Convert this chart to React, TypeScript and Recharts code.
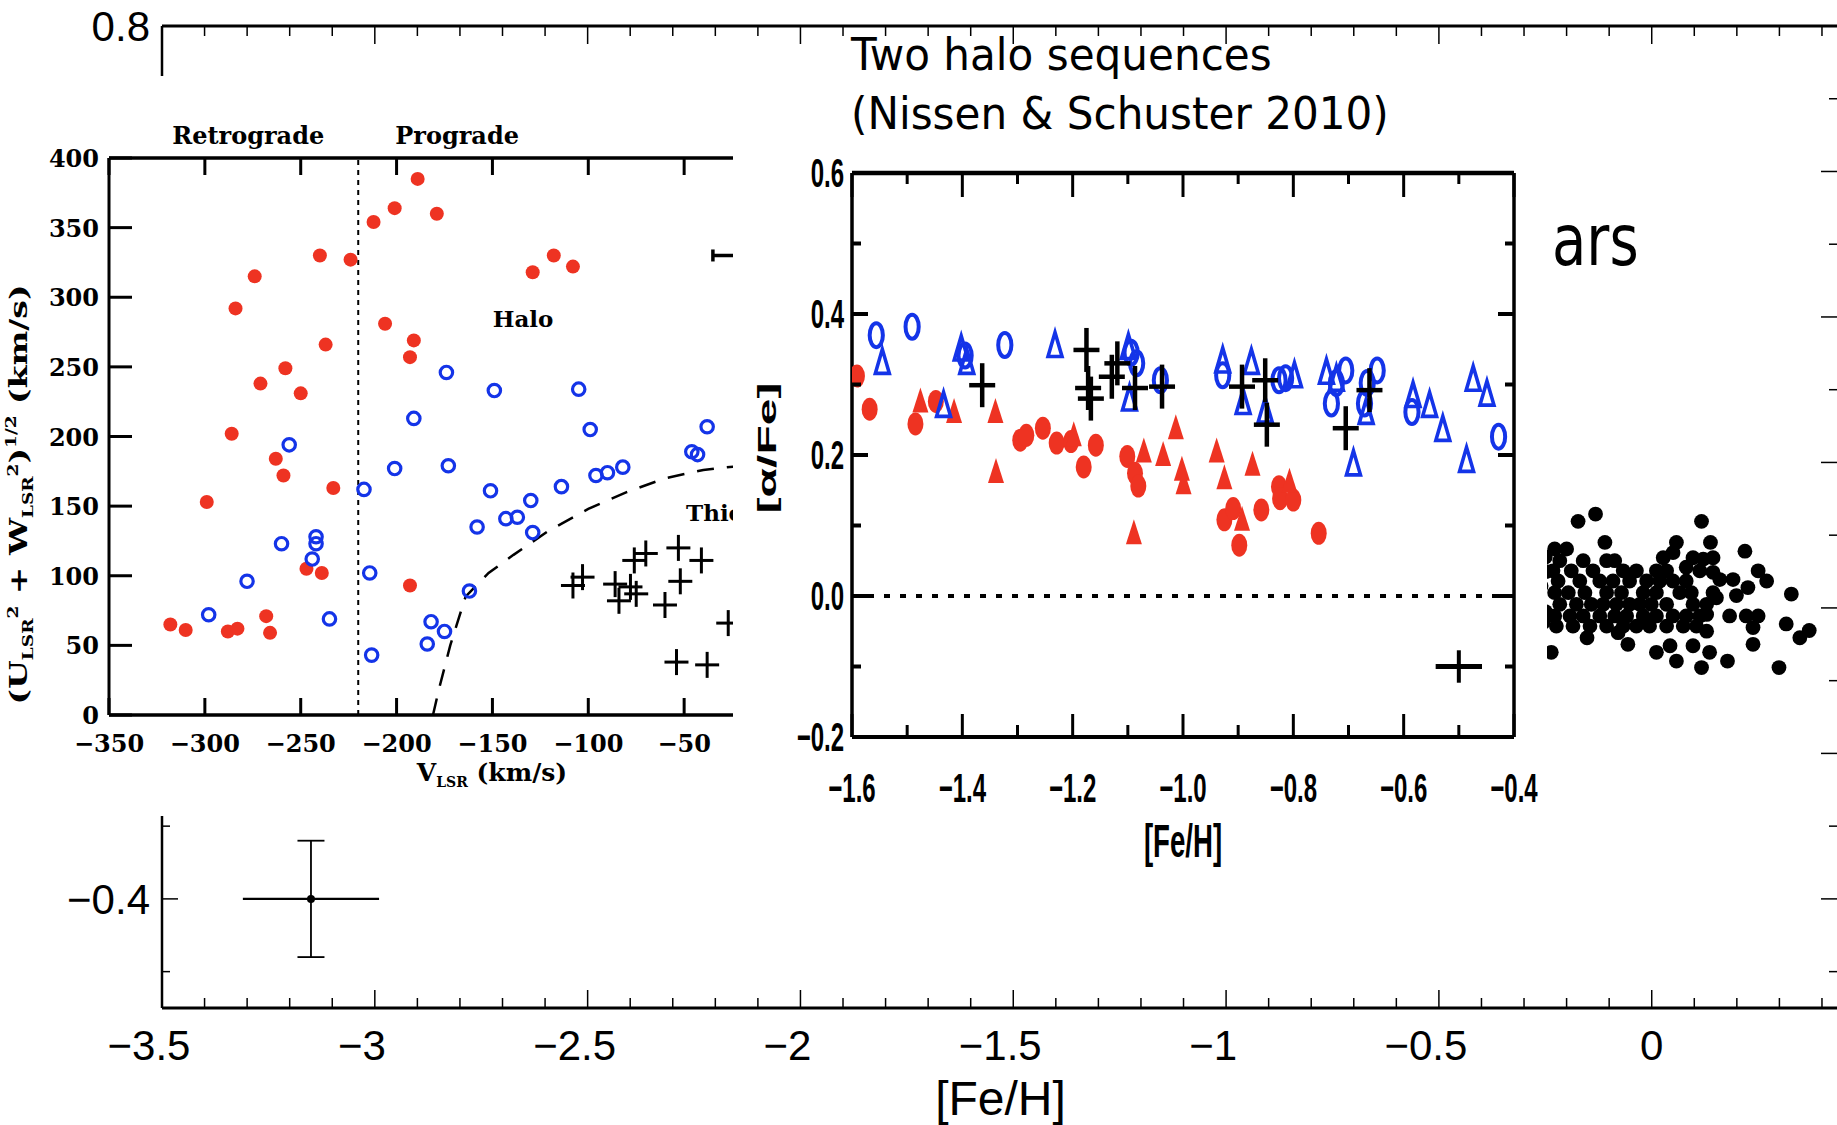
import React from 'react';
import { ScatterChart, Scatter, XAxis, YAxis, ReferenceLine, ReferenceDot, ErrorBar } from 'recharts';

const RED = '#ee3322';
const BLUE = '#1434e8';
const INK = '#000000';

// background slide plot: [Fe/H] vs [alpha/Fe]
const bgXTicks = [
  -3.5, -3.4, -3.3, -3.2, -3.1, -3, -2.9, -2.8, -2.7, -2.6, -2.5, -2.4, -2.3, -2.2, -2.1, -2, -1.9, -1.8, -1.7, -1.6,
  -1.5, -1.4, -1.3, -1.2, -1.1, -1, -0.9, -0.8, -0.7, -0.6, -0.5, -0.4, -0.3, -0.2, -0.1, 0, 0.1, 0.2, 0.3, 0.4,
];
const bgXLabels = [-3.5, -3, -2.5, -2, -1.5, -1, -0.5, 0];
const bgYTicks = [-0.5, -0.4, -0.3, -0.2, -0.1, 0, 0.1, 0.2, 0.3, 0.4, 0.5, 0.6, 0.7, 0.8];
const bgYLabels = [-0.4, -0.2, 0, 0.2, 0.4, 0.6, 0.8];
const bgStars = [
  [-0.173, 0.119], [-0.132, 0.129], [0.117, 0.119], [-0.11, 0.09], [0.058, 0.09], [0.138, 0.09], [0.219, 0.078],
  [0.25, 0.051], [0.27, 0.037], [0.328, 0.019], [0.316, -0.022], [0.348, -0.041], [0.37, -0.031], [0.299, -0.082],
  [0.117, -0.082], [0.178, -0.073], [0.136, -0.061], [0.058, -0.073], [0.011, -0.061], [0.043, -0.052], [0.097, -0.052],
  [-0.056, -0.05], [-0.079, -0.034], [-0.152, -0.041], [-0.236, -0.061], [0.226, 0.028], [0.199, 0.017], [0.183, -0.011],
  [0.222, -0.011], [0.25, -0.011], [0.238, -0.027], [0.238, -0.05], [0.129, -0.032], [0.129, -0.009], [0.152, 0.014],
  [0.16, 0.039], [0.191, 0.039],
  [-0.228, 0.081], [-0.2, 0.081],
  [-0.216, 0.065], [-0.161, 0.065], [-0.106, 0.065], [-0.087, 0.065],
  [-0.232, 0.051], [-0.189, 0.051], [-0.138, 0.051], [-0.067, 0.051], [-0.036, 0.051], [0.011, 0.051], [0.035, 0.051],
  [-0.22, 0.037], [-0.169, 0.037], [-0.122, 0.037], [-0.091, 0.037], [-0.052, 0.037], [-0.012, 0.037], [0.019, 0.037],
  [0.05, 0.037], [0.081, 0.037],
  [-0.228, 0.021], [-0.196, 0.021], [-0.157, 0.021], [-0.106, 0.021], [-0.071, 0.021], [-0.02, 0.021], [0.011, 0.021],
  [0.066, 0.021], [0.093, 0.021], [0.144, 0.021],
  [-0.216, 0.005], [-0.177, 0.005], [-0.142, 0.005], [-0.114, 0.005], [-0.083, 0.005], [-0.052, 0.005], [-0.028, 0.005],
  [-0.001, 0.005], [0.035, 0.005], [0.097, 0.005], [0.129, 0.005],
  [-0.228, -0.011], [-0.192, -0.011], [-0.161, -0.011], [-0.122, -0.011], [-0.087, -0.011], [-0.059, -0.011],
  [-0.02, -0.011], [0.011, -0.011], [0.05, -0.011], [0.081, -0.011], [0.113, -0.011],
  [-0.224, -0.025], [-0.185, -0.025], [-0.145, -0.025], [-0.106, -0.025], [-0.067, -0.025], [-0.036, -0.025],
  [-0.005, -0.025], [0.035, -0.025], [0.074, -0.025], [0.105, -0.025],
  [0.027, 0.069], [0.05, 0.076], [0.097, 0.069], [0.121, 0.067], [0.144, 0.069], [0.081, 0.056], [0.113, 0.051],
  [0.144, 0.049],
  [-0.25, 0.07], [-0.26, 0.03], [-0.25, -0.005], [-0.255, -0.02], [-0.248, 0.05],
];
const bgTypicalError = [{ x: -3.15, y: -0.4, ex: 0.16, ey: 0.08 }];

// pasted panel 1: V_LSR vs sqrt(U^2 + W^2)
const vXTicks = [-350, -300, -250, -200, -150, -100, -50, 0];
const vXLabels = [-350, -300, -250, -200, -150, -100, -50];
const vYTicks = [0, 50, 100, 150, 200, 250, 300, 350, 400];
const vLowAlpha = [
  [-189, 385], [-201, 364], [-179, 360], [-212, 354], [-240, 330], [-224, 327], [-274, 315], [-284, 292],
  [-129, 318], [-118, 330], [-108, 322], [-206, 281], [-191, 269], [-193, 257], [-237, 266], [-258, 249],
  [-271, 238], [-250, 231], [-286, 202], [-263, 184], [-259, 172], [-233, 163], [-299, 153], [-247, 105],
  [-239, 102], [-193, 93], [-318, 65], [-310, 61], [-288, 60], [-283, 62], [-268, 71], [-266, 59],
];
const vHighAlpha = [
  [-174, 246], [-149, 233], [-105, 234], [-191, 213], [-99, 205], [-256, 194], [-38, 207], [-46, 189], [-43, 187],
  [-201, 177], [-173, 179], [-96, 172], [-90, 174], [-82, 178], [-217, 162], [-151, 161], [-114, 164], [-130, 154],
  [-158, 135], [-143, 141], [-137, 142], [-129, 131], [-260, 123], [-242, 128], [-242, 123], [-244, 112], [-278, 96],
  [-214, 102], [-298, 72], [-235, 69], [-182, 67], [-175, 60], [-184, 51], [-213, 43], [-162, 89],
];
const vThickDisk = [
  [-108, 93], [-103, 99], [-86, 94], [-84, 82], [-78, 92], [-75, 87], [-76, 111], [-70, 116], [-60, 79],
  [-53, 120], [-52, 96], [-41, 111], [-54, 38], [-38, 36], [-27, 66],
];
const vDiskEdge = [
  [-181, 0], [-178, 18], [-172, 50], [-164, 85], [-152, 102], [-139, 115], [-121, 132], [-100, 148], [-80, 160],
  [-60, 170], [-40, 176], [-20, 179], [0, 180],
];
const vSampleError = [{ x: -20, y: 330, ex: 15 }];

// pasted panel 2: Nissen & Schuster (2010)
const nsXTicks = [-1.6, -1.5, -1.4, -1.3, -1.2, -1.1, -1.0, -0.9, -0.8, -0.7, -0.6, -0.5, -0.4];
const nsXLabels = [-1.6, -1.4, -1.2, -1.0, -0.8, -0.6, -0.4];
const nsYTicks = [-0.2, -0.1, 0, 0.1, 0.2, 0.3, 0.4, 0.5, 0.6];
const nsYLabels = [-0.2, 0, 0.2, 0.4, 0.6];
const nsHighRings = [
  [-1.556, 0.37], [-1.491, 0.382], [-1.395, 0.341], [-1.323, 0.356], [-1.084, 0.33], [-1.094, 0.345], [-1.041, 0.306],
  [-0.928, 0.313], [-0.826, 0.306], [-0.814, 0.309], [-0.705, 0.32], [-0.731, 0.273], [-0.722, 0.302], [-0.648, 0.32],
  [-0.671, 0.273], [-0.666, 0.302], [-0.585, 0.261], [-0.428, 0.226],
];
const nsHighTri = [
  [-1.545, 0.33], [-1.434, 0.269], [-1.402, 0.349], [-1.392, 0.33], [-1.232, 0.354], [-1.097, 0.278], [-1.099, 0.351],
  [-0.928, 0.332], [-0.891, 0.273], [-0.876, 0.33], [-0.851, 0.261], [-0.798, 0.311], [-0.74, 0.316], [-0.722, 0.306],
  [-0.691, 0.186], [-0.668, 0.259], [-0.583, 0.283], [-0.553, 0.269], [-0.529, 0.235], [-0.486, 0.191], [-0.474, 0.306],
  [-0.449, 0.285],
];
const nsLowDots = [
  [-1.591, 0.312], [-1.568, 0.265], [-1.485, 0.244], [-1.448, 0.276], [-1.295, 0.221], [-1.284, 0.228], [-1.254, 0.238],
  [-1.229, 0.217], [-1.203, 0.219], [-1.18, 0.183], [-1.158, 0.214], [-1.101, 0.198], [-1.087, 0.174], [-1.081, 0.156],
  [-0.925, 0.108], [-0.909, 0.124], [-0.898, 0.072], [-0.858, 0.122], [-0.826, 0.155], [-0.824, 0.138], [-0.8, 0.136],
  [-0.754, 0.089],
];
const nsLowTri = [
  [-1.476, 0.276], [-1.415, 0.261], [-1.34, 0.261], [-1.339, 0.176], [-1.198, 0.228], [-1.089, 0.089], [-1.071, 0.205],
  [-1.036, 0.2], [-1.013, 0.238], [-1.002, 0.179], [-0.999, 0.16], [-0.939, 0.205], [-0.925, 0.167], [-0.893, 0.108],
  [-0.874, 0.186], [-0.807, 0.162],
];
const nsThick = [
  [-1.364, 0.299], [-1.175, 0.349], [-1.172, 0.295], [-1.167, 0.28], [-1.129, 0.311], [-1.119, 0.33], [-1.087, 0.295],
  [-1.038, 0.297], [-0.893, 0.297], [-0.851, 0.306], [-0.848, 0.243], [-0.705, 0.238], [-0.662, 0.292],
];
const nsTypicalError = [{ x: -0.5, y: -0.1, ex: 0.042, ey: 0.023 }];

const pts = (a: number[][]) => a.map(([x, y]) => ({ x, y }));
const near = (list: number[], v: number) => list.some((m) => Math.abs(m - v) < 1e-6);
const neg = (s: string) => s.replace('-', '\u2212');

type Side = 'bottom' | 'top' | 'left' | 'right';
interface TickOpts {
  side: Side;
  major: number[];
  majorLen: number;
  minorLen: number;
  width: number;
  fmt?: (v: number) => string;
  family?: string;
  size?: number;
  weight?: string;
  gap?: number;
  base?: number;
  negShift?: number;
  sx?: number;
}

const makeTick = (o: TickOpts) => (p: any) => {
  const { x, y, payload } = p;
  const v: number = payload.value;
  const isMajor = near(o.major, v);
  const len = isMajor ? o.majorLen : o.minorLen;
  let x2 = x;
  let y2 = y;
  if (o.side === 'bottom') y2 = y - len;
  if (o.side === 'top') y2 = y + len;
  if (o.side === 'left') x2 = x + len;
  if (o.side === 'right') x2 = x - len;
  let label = null;
  if (o.fmt && isMajor) {
    let tx = x;
    let ty = y;
    let anchor = 'middle';
    if (o.side === 'bottom') {
      ty = y + (o.gap ?? 0);
      if (v < 0) tx -= o.negShift ?? 0;
    } else {
      tx = x - (o.gap ?? 0);
      ty = y + (o.base ?? 0);
      anchor = 'end';
    }
    label = (
      <text
        transform={`translate(${tx},${ty}) scale(${o.sx ?? 1},1)`}
        textAnchor={anchor}
        fontFamily={o.family}
        fontSize={o.size}
        fontWeight={o.weight ?? 'normal'}
        fill={INK}
      >
        {o.fmt(v)}
      </text>
    );
  }
  return (
    <g>
      <line x1={x} y1={y} x2={x2} y2={y2} stroke={INK} strokeWidth={o.width} />
      {label}
    </g>
  );
};

const SANS = "'Liberation Sans', Arial, sans-serif";
const IDL = "'DejaVu Serif', 'Liberation Serif', serif";

// background axes
const bgBottomTick = makeTick({
  side: 'bottom', major: bgXLabels, majorLen: 18, minorLen: 10, width: 1.5,
  fmt: (v) => neg(String(v)), family: SANS, size: 42, gap: 52, negShift: 13,
});
const bgTopTick = makeTick({ side: 'top', major: bgXLabels, majorLen: 18, minorLen: 10, width: 1.5 });
const bgLeftTick = makeTick({
  side: 'left', major: bgYLabels, majorLen: 16, minorLen: 8, width: 1.5,
  fmt: (v) => neg(String(v)), family: SANS, size: 42, gap: 12, base: 15,
});
const bgRightTick = makeTick({ side: 'right', major: bgYLabels, majorLen: 18, minorLen: 10, width: 1.5 });

// panel 1 axes
const vBottomTick = makeTick({
  side: 'bottom', major: vXLabels, majorLen: 17, minorLen: 17, width: 3,
  fmt: (v) => neg(String(v)), family: IDL, size: 24, weight: 'bold', gap: 37,
});
const vTopTick = makeTick({ side: 'top', major: vXTicks, majorLen: 17, minorLen: 17, width: 3 });
const vLeftTick = makeTick({
  side: 'left', major: vYTicks, majorLen: 23, minorLen: 23, width: 3,
  fmt: (v) => String(v), family: IDL, size: 24, weight: 'bold', gap: 10, base: 9,
});

// panel 2 axes
const nsBottomTick = makeTick({
  side: 'bottom', major: nsXLabels, majorLen: 23, minorLen: 12, width: 3,
  fmt: (v) => neg(v.toFixed(1)), family: SANS, size: 40, weight: 'bold', gap: 65, sx: 0.6,
});
const nsTopTick = makeTick({ side: 'top', major: nsXLabels, majorLen: 24, minorLen: 11, width: 3 });
const nsLeftTick = makeTick({
  side: 'left', major: nsYLabels, majorLen: 16, minorLen: 9, width: 4,
  fmt: (v) => neg(v.toFixed(1)), family: SANS, size: 40, weight: 'bold', gap: 8, base: 14, sx: 0.6,
});
const nsRightTick = makeTick({ side: 'right', major: nsYLabels, majorLen: 16, minorLen: 9, width: 4 });

// marker shapes
const bgDot = (p: any) => <circle cx={p.cx} cy={p.cy} r={7.4} fill={INK} />;
const bgCentre = (p: any) => <circle cx={p.cx} cy={p.cy} r={4} fill={INK} />;
const none = () => <g />;
const vRed = (p: any) => <circle cx={p.cx} cy={p.cy} r={7} fill={RED} />;
const vRing = (p: any) => <circle cx={p.cx} cy={p.cy} r={6.2} fill="none" stroke={BLUE} strokeWidth={3.2} />;
const vPlus = (p: any) => (
  <g stroke={INK} strokeWidth={3}>
    <line x1={p.cx - 12} y1={p.cy} x2={p.cx + 12} y2={p.cy} />
    <line x1={p.cx} y1={p.cy - 13} x2={p.cx} y2={p.cy + 13} />
  </g>
);
const nsRing = (p: any) => (
  <ellipse cx={p.cx} cy={p.cy} rx={6.6} ry={12} fill="none" stroke={BLUE} strokeWidth={4} />
);
const nsOpenTri = (p: any) => (
  <polygon
    points={`${p.cx},${p.cy - 14} ${p.cx - 7},${p.cy + 10} ${p.cx + 7},${p.cy + 10}`}
    fill="none" stroke={BLUE} strokeWidth={3.6}
  />
);
const nsDot = (p: any) => <ellipse cx={p.cx} cy={p.cy} rx={8} ry={11.5} fill={RED} />;
const nsTri = (p: any) => (
  <polygon points={`${p.cx},${p.cy - 14} ${p.cx - 8},${p.cy + 11} ${p.cx + 8},${p.cy + 11}`} fill={RED} />
);
const nsPlus = (p: any) => (
  <g stroke={INK} strokeWidth={4.5}>
    <line x1={p.cx - 13} y1={p.cy} x2={p.cx + 13} y2={p.cy} />
    <line x1={p.cx} y1={p.cy - 22} x2={p.cx} y2={p.cy + 22} />
  </g>
);

const vb0 = (p: any) => p.viewBox || { x: 0, y: 0, width: 0, height: 0 };

function BackgroundPlot() {
  return (
    <ScatterChart width={1900} height={1125} margin={{ top: 0, right: 0, bottom: 0, left: 0 }}>
      <XAxis
        xAxisId="b" dataKey="x" type="number" domain={[-3.5, 0.44]} ticks={bgXTicks} interval={0} height={117}
        tickLine={false} tickSize={0} tickMargin={0} tick={bgBottomTick} allowDataOverflow
        axisLine={{ stroke: INK, strokeWidth: 3 }}
        label={(p: any) => {
          const vb = vb0(p);
          return (
            <text x={vb.x + vb.width / 2} y={vb.y + 107} textAnchor="middle" fontFamily={SANS} fontSize={48} fill={INK}>
              [Fe/H]
            </text>
          );
        }}
      />
      <XAxis
        xAxisId="t" orientation="top" dataKey="x" type="number" domain={[-3.5, 0.44]} ticks={bgXTicks} interval={0}
        height={26} tickLine={false} tickSize={0} tickMargin={0} tick={bgTopTick} allowDataOverflow
        axisLine={{ stroke: INK, strokeWidth: 3 }}
      />
      <YAxis
        yAxisId="l" dataKey="y" type="number" domain={[-0.55, 0.8]} ticks={bgYTicks} interval={0} width={162}
        tickLine={false} tickSize={0} tickMargin={0} tick={bgLeftTick} allowDataOverflow
        axisLine={{ stroke: INK, strokeWidth: 2.5 }}
      />
      <YAxis
        yAxisId="r" orientation="right" dataKey="y" type="number" domain={[-0.55, 0.8]} ticks={bgYTicks} interval={0}
        width={61} tickLine={false} tickSize={0} tickMargin={0} tick={bgRightTick} allowDataOverflow
        axisLine={{ stroke: INK, strokeWidth: 2.5 }}
      />
      <Scatter xAxisId="b" yAxisId="l" data={pts(bgStars)} shape={bgDot} isAnimationActive={false} />
      <Scatter xAxisId="b" yAxisId="l" data={bgTypicalError} shape={bgCentre} isAnimationActive={false}>
        <ErrorBar dataKey="ey" direction="y" width={13.5} stroke={INK} strokeWidth={1.8} isAnimationActive={false} />
        <ErrorBar dataKey="ex" direction="x" width={0} stroke={INK} strokeWidth={2.2} isAnimationActive={false} />
      </Scatter>
    </ScatterChart>
  );
}

function VelocityPanel() {
  return (
    <ScatterChart width={800} height={740} margin={{ top: 0, right: 0, bottom: 0, left: 0 }}>
      <XAxis
        xAxisId="b" dataKey="x" type="number" domain={[-350, 0]} ticks={vXTicks} interval={0} height={101}
        tickLine={false} tickSize={0} tickMargin={0} tick={vBottomTick} allowDataOverflow
        axisLine={{ stroke: INK, strokeWidth: 3.5 }}
        label={(p: any) => {
          const vb = vb0(p);
          return (
            <text x={vb.x + 383} y={vb.y + 66} textAnchor="middle" fontFamily={IDL} fontWeight="bold" fontSize={25} fill={INK}>
              V<tspan fontSize={14} dy={6}>LSR</tspan>
              <tspan dy={-6}> (km/s)</tspan>
            </text>
          );
        }}
      />
      <XAxis
        xAxisId="t" orientation="top" dataKey="x" type="number" domain={[-350, 0]} ticks={vXTicks} interval={0}
        height={82} tickLine={false} tickSize={0} tickMargin={0} tick={vTopTick} allowDataOverflow
        axisLine={{ stroke: INK, strokeWidth: 3.5 }}
      />
      <YAxis
        yAxisId="l" dataKey="y" type="number" domain={[0, 400]} ticks={vYTicks} interval={0} width={109}
        tickLine={false} tickSize={0} tickMargin={0} tick={vLeftTick} allowDataOverflow
        axisLine={{ stroke: INK, strokeWidth: 3 }}
        label={(p: any) => {
          const vb = vb0(p);
          const cx = vb.x + 18;
          const cy = vb.y + vb.height / 2 + 58;
          return (
            <text
              transform={`translate(${cx},${cy}) rotate(-90)`} y={9} textAnchor="middle" fontFamily={IDL}
              fontWeight="bold" fontSize={25} fill={INK} textLength={420} lengthAdjust="spacingAndGlyphs"
            >
              (U<tspan fontSize={14} dy={6}>LSR</tspan>
              <tspan fontSize={14} dy={-15}>2</tspan>
              <tspan dy={9}> + W</tspan>
              <tspan fontSize={14} dy={6}>LSR</tspan>
              <tspan fontSize={14} dy={-15}>2</tspan>
              <tspan dy={9}>)</tspan>
              <tspan fontSize={14} dy={-11}>1/2</tspan>
              <tspan dy={11}> (km/s)</tspan>
            </text>
          );
        }}
      />
      <YAxis
        yAxisId="r" orientation="right" dataKey="y" type="number" domain={[0, 400]} ticks={vYTicks} interval={0}
        width={20} tickLine={false} tick={false} allowDataOverflow axisLine={{ stroke: INK, strokeWidth: 3 }}
      />
      <ReferenceLine
        xAxisId="b" yAxisId="l" x={-220} stroke={INK} strokeWidth={2} strokeDasharray="5 5"
        label={(p: any) => {
          const vb = vb0(p);
          return (
            <g fontFamily={IDL} fontWeight="bold" fontSize={24} fill={INK}>
              <text x={vb.x - 34} y={vb.y - 14} textAnchor="end">Retrograde</text>
              <text x={vb.x + 37} y={vb.y - 14} textAnchor="start">Prograde</text>
            </g>
          );
        }}
      />
      <Scatter
        xAxisId="b" yAxisId="l" data={pts(vDiskEdge)} shape={none} isAnimationActive={false}
        line={{ stroke: INK, strokeWidth: 2.5, strokeDasharray: '17 13' }}
      />
      <Scatter xAxisId="b" yAxisId="l" data={pts(vLowAlpha)} shape={vRed} isAnimationActive={false} />
      <Scatter xAxisId="b" yAxisId="l" data={pts(vHighAlpha)} shape={vRing} isAnimationActive={false} />
      <Scatter xAxisId="b" yAxisId="l" data={pts(vThickDisk)} shape={vPlus} isAnimationActive={false} />
      <Scatter xAxisId="b" yAxisId="l" data={vSampleError} shape={none} isAnimationActive={false}>
        <ErrorBar dataKey="ex" direction="x" width={6} stroke={INK} strokeWidth={3.5} isAnimationActive={false} />
      </Scatter>
      <ReferenceDot
        xAxisId="b" yAxisId="l" x={-134} y={285} r={0}
        label={(p: any) => {
          const vb = vb0(p);
          return (
            <text x={vb.x} y={vb.y + 9} textAnchor="middle" fontFamily={IDL} fontWeight="bold" fontSize={23} fill={INK}>
              Halo
            </text>
          );
        }}
      />
      <ReferenceDot
        xAxisId="b" yAxisId="l" x={-49} y={146} r={0}
        label={(p: any) => {
          const vb = vb0(p);
          return (
            <text x={vb.x} y={vb.y + 9} textAnchor="start" fontFamily={IDL} fontWeight="bold" fontSize={23} fill={INK}>
              Thick disk
            </text>
          );
        }}
      />
    </ScatterChart>
  );
}

function NissenPanel() {
  return (
    <ScatterChart width={807} height={829} margin={{ top: 0, right: 0, bottom: 0, left: 0 }}>
      <XAxis
        xAxisId="b" dataKey="x" type="number" domain={[-1.6, -0.4]} ticks={nsXTicks} interval={0} height={136}
        tickLine={false} tickSize={0} tickMargin={0} tick={nsBottomTick} allowDataOverflow
        axisLine={{ stroke: INK, strokeWidth: 4 }}
        label={(p: any) => {
          const vb = vb0(p);
          return (
            <text
              transform={`translate(${vb.x + vb.width / 2},${vb.y + 120}) scale(0.6,1)`} textAnchor="middle"
              fontFamily={SANS} fontWeight="bold" fontSize={46} fill={INK}
            >
              [Fe/H]
            </text>
          );
        }}
      />
      <XAxis
        xAxisId="t" orientation="top" dataKey="x" type="number" domain={[-1.6, -0.4]} ticks={nsXTicks} interval={0}
        height={129} tickLine={false} tickSize={0} tickMargin={0} tick={nsTopTick} allowDataOverflow
        axisLine={{ stroke: INK, strokeWidth: 4.5 }}
      />
      <YAxis
        yAxisId="l" dataKey="y" type="number" domain={[-0.2, 0.6]} ticks={nsYTicks} interval={0} width={112}
        tickLine={false} tickSize={0} tickMargin={0} tick={nsLeftTick} allowDataOverflow
        axisLine={{ stroke: INK, strokeWidth: 3.5 }}
        label={(p: any) => {
          const vb = vb0(p);
          const cy = vb.y + vb.height / 2 - 7;
          return (
            <text
              transform={`translate(${vb.x + 27},${cy}) rotate(-90) scale(1,0.55)`} y={16} textAnchor="middle"
              fontFamily={SANS} fontWeight="bold" fontSize={48} fill={INK}
            >
              [α/Fe]
            </text>
          );
        }}
      />
      <YAxis
        yAxisId="r" orientation="right" dataKey="y" type="number" domain={[-0.2, 0.6]} ticks={nsYTicks} interval={0}
        width={33} tickLine={false} tickSize={0} tickMargin={0} tick={nsRightTick} allowDataOverflow
        axisLine={{ stroke: INK, strokeWidth: 3.5 }}
      />
      <ReferenceLine xAxisId="b" yAxisId="l" y={0} stroke={INK} strokeWidth={4} strokeDasharray="6 10" />
      <Scatter xAxisId="b" yAxisId="l" data={pts(nsLowDots)} shape={nsDot} isAnimationActive={false} />
      <Scatter xAxisId="b" yAxisId="l" data={pts(nsLowTri)} shape={nsTri} isAnimationActive={false} />
      <Scatter xAxisId="b" yAxisId="l" data={pts(nsHighRings)} shape={nsRing} isAnimationActive={false} />
      <Scatter xAxisId="b" yAxisId="l" data={pts(nsHighTri)} shape={nsOpenTri} isAnimationActive={false} />
      <Scatter xAxisId="b" yAxisId="l" data={pts(nsThick)} shape={nsPlus} isAnimationActive={false} />
      <Scatter xAxisId="b" yAxisId="l" data={nsTypicalError} shape={none} isAnimationActive={false}>
        <ErrorBar dataKey="ex" direction="x" width={0} stroke={INK} strokeWidth={5} isAnimationActive={false} />
        <ErrorBar dataKey="ey" direction="y" width={0} stroke={INK} strokeWidth={4} isAnimationActive={false} />
      </Scatter>
    </ScatterChart>
  );
}

const slideFont = "'DejaVu Sans', Verdana, sans-serif";

export default function App() {
  return (
    <div style={{ position: 'fixed', left: 0, top: 0, width: 1837, height: 1125, overflow: 'hidden', background: '#fff' }}>
      <div style={{ position: 'absolute', left: 0, top: 0 }}>
        <BackgroundPlot />
      </div>
      <div
        style={{
          position: 'absolute', left: 1552, top: 205, fontFamily: slideFont, fontSize: 71, lineHeight: 1,
          transform: 'scaleX(0.79)', transformOrigin: '0 0', whiteSpace: 'nowrap', color: INK,
        }}
      >
        ars
      </div>
      <div style={{ position: 'absolute', left: 0, top: 76, width: 733, height: 740, overflow: 'hidden', background: '#fff' }}>
        <VelocityPanel />
      </div>
      <div style={{ position: 'absolute', left: 740, top: 44, width: 807, height: 829, overflow: 'hidden', background: '#fff' }}>
        <NissenPanel />
      </div>
      <div
        style={{
          position: 'absolute', left: 851, top: 25, fontFamily: slideFont, fontSize: 45, lineHeight: '59px',
          transform: 'scaleX(0.936)', transformOrigin: '0 0', whiteSpace: 'nowrap', color: INK,
        }}
      >
        <div>Two halo sequences</div>
        <div>(Nissen &amp; Schuster 2010)</div>
      </div>
    </div>
  );
}
